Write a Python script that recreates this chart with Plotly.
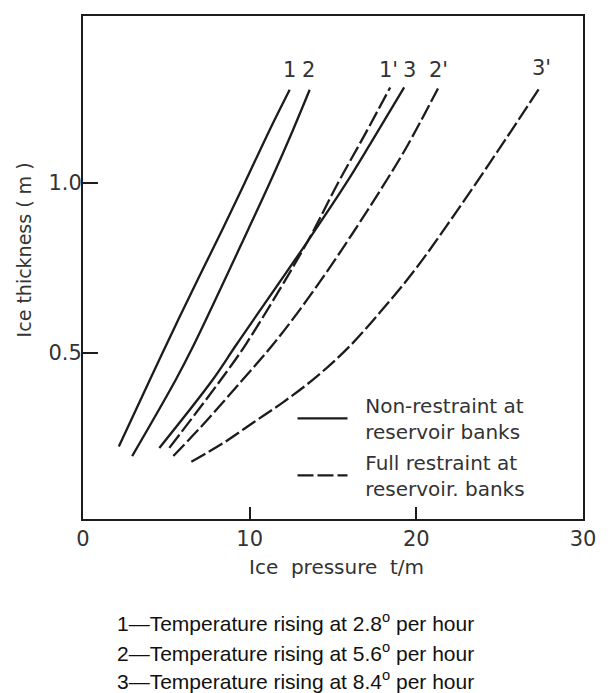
import plotly.graph_objects as go

# ---- data ----
c1_x = [2.15, 4.0, 5.8, 8.35, 9.7, 11.2, 12.4]
c1_y = [0.225, 0.42, 0.607, 0.862, 1.0, 1.156, 1.274]
c2_x = [2.95, 5.55, 6.6, 9.9, 11.2, 12.6, 13.6]
c2_y = [0.197, 0.42, 0.519, 0.862, 1.0, 1.156, 1.274]
c3_x = [4.58, 7.76, 9.25, 13.5, 15.8, 17.3, 19.27]
c3_y = [0.221, 0.42, 0.528, 0.83, 1.0, 1.12, 1.281]
c1p_x = [5.18, 8.25, 9.8, 13.5, 15.3, 16.95, 18.43]
c1p_y = [0.221, 0.42, 0.528, 0.83, 1.0, 1.146, 1.281]
c2p_x = [5.42, 7.4, 9.55, 11.3, 13.05, 14.7, 16.15, 17.6, 19.35, 21.3]
c2p_y = [0.197, 0.30, 0.42, 0.519, 0.63, 0.744, 0.85, 0.96, 1.1, 1.278]
c3p_x = [6.5, 8.4, 10.2, 12.0, 14.0, 16.0, 18.0, 20.0, 22.4, 24.9, 27.4]
c3p_y = [0.18, 0.235, 0.295, 0.355, 0.43, 0.52, 0.63, 0.75, 0.915, 1.095, 1.28]

label_text = ["1", "2", "1'", "3", "2'", "3'"]
label_x = [12.36, 13.51, 18.3, 19.6, 21.35, 27.5]
label_y = [1.332, 1.332, 1.332, 1.332, 1.332, 1.337]

x_ticks = [0, 10, 20, 30]
x_ticktext = ["0", "10", "20", "30"]
y_ticks = [0.5, 1.0]
y_ticktext = ["0.5", "1.0"]

legend_names = ["\u00a0\u00a0Non-restraint at<br>\u00a0\u00a0reservoir banks",
                "\u00a0\u00a0Full restraint at<br>\u00a0\u00a0reservoir. banks"]
footnotes = [
    "1\u2014Temperature rising at 2.8<sup>o</sup> per hour",
    "2\u2014Temperature rising at 5.6<sup>o</sup> per hour",
    "3\u2014Temperature rising at 8.4<sup>o</sup> per hour",
]

INK = "#1c1c1c"
FONT = "DejaVu Sans"

fig = go.Figure()

solid = [(c1_x, c1_y), (c2_x, c2_y), (c3_x, c3_y)]
dashed = [(c1p_x, c1p_y), (c2p_x, c2p_y), (c3p_x, c3p_y)]

for i, (xs, ys) in enumerate(solid):
    fig.add_trace(go.Scatter(
        x=xs, y=ys, mode="lines", line=dict(color=INK, width=2.3, shape="spline"),
        name=legend_names[0], legendgroup="a", showlegend=(i == 0)))
for i, (xs, ys) in enumerate(dashed):
    fig.add_trace(go.Scatter(
        x=xs, y=ys, mode="lines", line=dict(color=INK, width=2.3, shape="spline", dash="16px,4px"),
        name=legend_names[1], legendgroup="b", showlegend=(i == 0)))

for t, lx, ly in zip(label_text, label_x, label_y):
    fig.add_annotation(x=lx, y=ly, text=t, showarrow=False,
                       font=dict(family=FONT, size=21, color="#333"))

fig.add_annotation(xref="paper", yref="paper", x=-0.119, y=0.535, text="Ice thickness ( m )",
                   textangle=-90, xanchor="center", yanchor="middle", showarrow=False,
                   font=dict(family=FONT, size=19, color="#333"))
fig.add_annotation(xref="paper", yref="paper", x=0.506, y=-0.0954, text="Ice  pressure  t/m",
                   xanchor="center", yanchor="middle", showarrow=False,
                   font=dict(family=FONT, size=20, color="#333"))

foot_y = [-0.2048, -0.2644, -0.32]
for t, fy in zip(footnotes, foot_y):
    fig.add_annotation(xref="paper", yref="paper", x=0.064, y=fy, text=t, xanchor="left",
                       yanchor="middle", showarrow=False, align="left",
                       font=dict(family="Liberation Sans", size=21, color="#111"))

axis_common = dict(showline=True, linewidth=2, linecolor=INK, mirror=True, showgrid=False,
                   zeroline=False, ticks="inside", tickwidth=1.5, tickcolor=INK,
                   tickfont=dict(family=FONT, size=21, color="#333"))

fig.update_layout(
    width=608, height=693,
    margin=dict(l=83, r=21, t=16, b=174, pad=0),
    paper_bgcolor="white", plot_bgcolor="white",
    xaxis=dict(range=[0, 30], tickvals=x_ticks, ticktext=x_ticktext, ticklen=12, **axis_common),
    yaxis=dict(range=[0.012, 1.491], tickvals=y_ticks, ticktext=y_ticktext, ticklen=15,
               ticklabelstandoff=-5, **axis_common),
    legend=dict(x=0.419, y=0.2645, xanchor="left", yanchor="top", bgcolor="rgba(0,0,0,0)",
                font=dict(family=FONT, size=20, color="#333"), itemwidth=50,
                tracegroupgap=2, traceorder="grouped"),
    showlegend=True,
)

fig.write_html("out.html")
